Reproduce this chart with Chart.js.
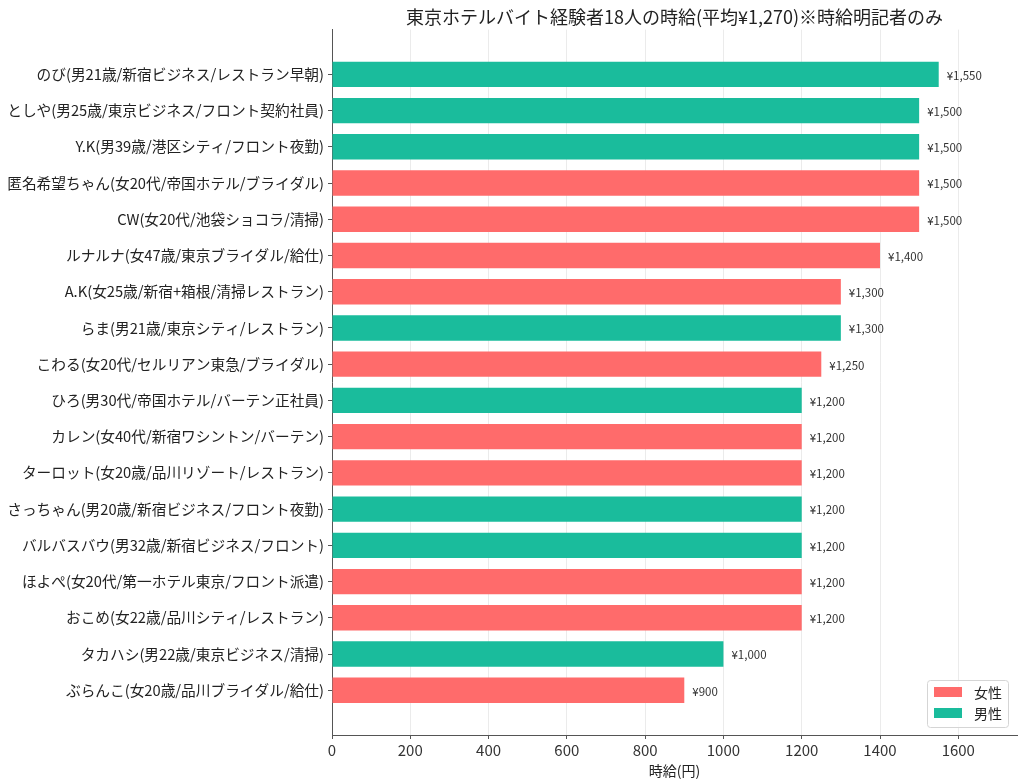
<!DOCTYPE html>
<html>
<head>
<meta charset="utf-8">
<script src="https://cdn.jsdelivr.net/npm/chart.js@4"></script>
<style>
  html, body { margin: 0; padding: 0; background: #fff; }
  #wrap { width: 1024px; height: 784px; }
</style>
</head>
<body>
<div id="wrap"><canvas id="chart" width="1024" height="784"></canvas></div>
<script>
// names, top to bottom
var names = [
    "のび(男21歳/新宿ビジネス/レストラン早朝)",
    "としや(男25歳/東京ビジネス/フロント契約社員)",
    "Y.K(男39歳/港区シティ/フロント夜勤)",
    "匿名希望ちゃん(女20代/帝国ホテル/ブライダル)",
    "CW(女20代/池袋ショコラ/清掃)",
    "ルナルナ(女47歳/東京ブライダル/給仕)",
    "A.K(女25歳/新宿+箱根/清掃レストラン)",
    "らま(男21歳/東京シティ/レストラン)",
    "こわる(女20代/セルリアン東急/ブライダル)",
    "ひろ(男30代/帝国ホテル/バーテン正社員)",
    "カレン(女40代/新宿ワシントン/バーテン)",
    "ターロット(女20歳/品川リゾート/レストラン)",
    "さっちゃん(男20歳/新宿ビジネス/フロント夜勤)",
    "バルバスバウ(男32歳/新宿ビジネス/フロント)",
    "ほよぺ(女20代/第一ホテル東京/フロント派遣)",
    "おこめ(女22歳/品川シティ/レストラン)",
    "タカハシ(男22歳/東京ビジネス/清掃)",
    "ぶらんこ(女20歳/品川ブライダル/給仕)"
];
var wages = [1550, 1500, 1500, 1500, 1500, 1400, 1300, 1300, 1250,
             1200, 1200, 1200, 1200, 1200, 1200, 1200, 1000, 900];
var genders = ["男", "男", "男", "女", "女", "女", "女", "男", "女",
               "男", "女", "女", "男", "男", "女", "女", "男", "女"];
var xTicks = [0, 200, 400, 600, 800, 1000, 1200, 1400, 1600];
var legendNames = ["女性", "男性"];

var FEMALE = "#ff6b6b";
var MALE = "#1abc9c";
var FONT = "'Noto Sans CJK JP', 'Noto Sans', sans-serif";

var barColors = genders.map(g => g === "女" ? FEMALE : MALE);

// value labels at the end of each bar
var valueLabels = {
    id: "valueLabels",
    afterDatasetsDraw: function (chart) {
        var ctx = chart.ctx;
        var meta = chart.getDatasetMeta(0);
        ctx.save();
        ctx.font = "11.5px " + FONT;
        ctx.fillStyle = "#333";
        ctx.textAlign = "left";
        ctx.textBaseline = "middle";
        meta.data.forEach(function (bar, i) {
            ctx.fillText("¥" + wages[i].toLocaleString("en-US"), bar.x + 8, bar.y + 1);
        });
        ctx.restore();
    }
};

// legend box inside the plot, lower right
var cornerLegend = {
    id: "cornerLegend",
    afterDraw: function (chart) {
        var ctx = chart.ctx;
        var area = chart.chartArea;
        var w = 81, h = 47;
        var x0 = area.right - w - 9, y0 = area.bottom - h - 8;
        ctx.save();
        ctx.fillStyle = "rgba(255,255,255,0.85)";
        ctx.strokeStyle = "#d5d5d5";
        ctx.lineWidth = 1;
        ctx.beginPath();
        ctx.roundRect(x0 + 0.5, y0 + 0.5, w, h, 3);
        ctx.fill();
        ctx.stroke();
        var colors = [FEMALE, MALE];
        ctx.font = "14px " + FONT;
        ctx.textBaseline = "middle";
        legendNames.forEach(function (name, i) {
            var cy = y0 + 12 + i * 21;
            ctx.fillStyle = colors[i];
            ctx.fillRect(x0 + 7, cy - 5, 28, 10);
            ctx.fillStyle = "#222";
            ctx.fillText(name, x0 + 47, cy + 1);
        });
        ctx.restore();
    }
};

var chart = new Chart(document.getElementById("chart").getContext("2d"), {
    type: "bar",
    data: {
        datasets: [{
            data: wages.map((v, i) => ({ x: v, y: i })),
            backgroundColor: barColors,
            borderWidth: 0,
            barPercentage: 0.7,
            categoryPercentage: 1.0
        }]
    },
    options: {
        indexAxis: "y",
        responsive: false,
        animation: false,
        layout: { padding: { top: 0, right: 7, left: 0, bottom: 0 } },
        plugins: {
            legend: { display: false },
            tooltip: { enabled: false },
            title: {
                display: true,
                text: "東京ホテルバイト経験者18人の時給(平均¥1,270)※時給明記者のみ",
                fullSize: false,
                color: "#222",
                font: { family: FONT, size: 18, weight: "normal" },
                padding: { top: 6, bottom: 2 }
            }
        },
        scales: {
            x: {
                type: "linear",
                min: 0,
                max: 1750,
                afterBuildTicks: function (scale) {
                    scale.ticks = xTicks.map(v => ({ value: v }));
                },
                afterFit: function (scale) { scale.height = 49; },
                grid: { color: "#ebebeb", tickColor: "#555", tickLength: 4, lineWidth: 1 },
                border: { color: "#555", width: 1 },
                ticks: {
                    color: "#333",
                    font: { family: FONT, size: 15 },
                    padding: 2,
                    callback: function (v) { return String(v); }
                },
                title: {
                    display: true,
                    text: "時給(円)",
                    color: "#222",
                    font: { family: FONT, size: 14 },
                    padding: { top: 0, bottom: 5 }
                }
            },
            y: {
                type: "linear",
                reverse: true,
                offset: false,
                min: -1.235,
                max: 18.235,
                afterBuildTicks: function (scale) {
                    scale.ticks = names.map((_, i) => ({ value: i }));
                },
                afterFit: function (scale) { scale.width = 332; },
                grid: { offset: false, drawOnChartArea: false, tickColor: "#555", tickLength: 4 },
                border: { color: "#555", width: 1 },
                ticks: {
                    color: "#222",
                    font: { family: FONT, size: 14.7 },
                    padding: 4,
                    callback: function (v) { return names[v]; }
                }
            }
        }
    },
    plugins: [valueLabels, cornerLegend]
});
</script>
</body>
</html>
